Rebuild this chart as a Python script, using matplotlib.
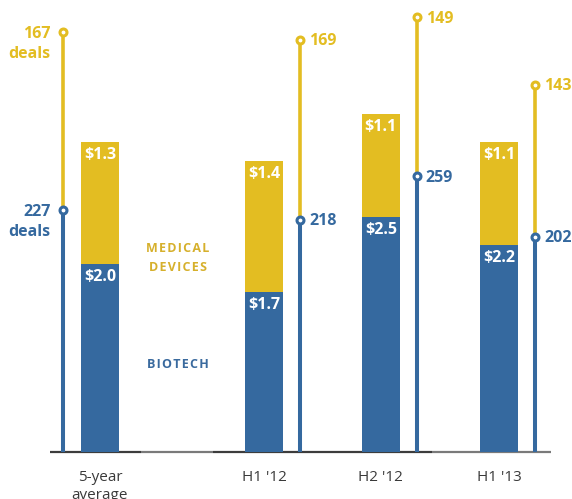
import matplotlib.pyplot as plt

plt.rcParams['font.family'] = ['Open Sans', 'DejaVu Sans']

# --- Data ---
categories = ["5-year\naverage", "H1 '12", "H2 '12", "H1 '13"]
biotech_usd = [2.0, 1.7, 2.5, 2.2]      # $ billions
meddev_usd = [1.3, 1.4, 1.1, 1.1]
biotech_deals = [227, 218, 259, 202]
meddev_deals = [167, 169, 149, 143]

BLUE = "#35699f"
YELLOW = "#e3bd22"
BLUE_TXT = "#3a6a9e"
YELLOW_TXT = "#d6b02c"

# bar centres and where each deal-count stem sits next to its bar
x_pos = [0, 1.396, 2.39, 3.396]
stem_off = [-0.315, 0.306, 0.306, 0.306]
bar_w = 0.323
LBL = dict(fontsize=11.5, fontweight="bold")


def spaced(word):
    # loose tracking for the small caps labels
    return "\u200a".join(word)


fig = plt.figure(figsize=(5.72, 4.99), dpi=100)
ax = fig.add_axes([0, 47 / 499, 1, 452 / 499])
ax.set_xlim(-0.851, 4.017)
ax.set_ylim(0, 4.81)
ax2 = ax.twinx()
ax2.set_ylim(0, 424.4)

# stacked bars: biotech then medical devices
ax.bar(x_pos, biotech_usd, width=bar_w, color=BLUE, zorder=2)
ax.bar(x_pos, meddev_usd, width=bar_w, bottom=biotech_usd, color=YELLOW, zorder=2)

for x, b, m in zip(x_pos, biotech_usd, meddev_usd):
    ax.annotate(f"${b:.1f}", (x, b), xytext=(0, -9.5), textcoords="offset points",
                ha="center", va="center", color="white", **LBL)
    ax.annotate(f"${m:.1f}", (x, b + m), xytext=(0, -9.5), textcoords="offset points",
                ha="center", va="center", color="white", **LBL)

# deal-count stems: blue from zero, yellow stacked on top
for i, (x, off, bd, md) in enumerate(zip(x_pos, stem_off, biotech_deals, meddev_deals)):
    sx = x + off
    total = bd + md
    ax2.plot([sx, sx], [bd, total], color=YELLOW, lw=2.6, solid_capstyle="butt", zorder=3)
    ax2.plot([sx, sx], [0, bd], color=BLUE, lw=2.9, solid_capstyle="butt", zorder=3)
    ax2.plot(sx, total, "o", ms=5, mfc="white", mec=YELLOW, mew=2.2, zorder=4)
    ax2.plot(sx, bd, "o", ms=5, mfc="white", mec=BLUE, mew=2.2, zorder=4)
    if i == 0:
        for val, lab, col in ((total, md, YELLOW), (bd, bd, BLUE)):
            ax2.annotate(str(lab), (sx, val), xytext=(-9, -1), textcoords="offset points",
                         ha="right", va="center", color=col, **LBL)
            ax2.annotate("deals", (sx, val), xytext=(-9, -15.5), textcoords="offset points",
                         ha="right", va="center", color=col, **LBL)
    else:
        ax2.annotate(str(md), (sx, total), xytext=(6.5, -1), textcoords="offset points",
                     ha="left", va="center", color=YELLOW, **LBL)
        ax2.annotate(str(bd), (sx, bd), xytext=(6.5, -1), textcoords="offset points",
                     ha="left", va="center", color=BLUE, **LBL)

# series labels
ax.text(0.664, 2.17, spaced("MEDICAL"), ha="center", va="center", color=YELLOW_TXT,
        fontsize=9, fontweight="bold")
ax.text(0.664, 1.96, spaced("DEVICES"), ha="center", va="center", color=YELLOW_TXT,
        fontsize=9, fontweight="bold")
ax.text(0.664, 0.93, spaced("BIOTECH"), ha="center", va="center", color=BLUE_TXT,
        fontsize=9, fontweight="bold")

# baseline, drawn in alternating shades
segs = [(-0.426, 0.349, "#3c3c3c"), (0.349, 0.962, "#7a7a7a"),
        (0.962, 2.826, "#3c3c3c"), (2.826, 3.838, "#7a7a7a")]
for x0, x1, c in segs:
    ax.plot([x0, x1], [0, 0], color=c, lw=1.6, solid_capstyle="butt", clip_on=False, zorder=1)

ax.set_xticks(x_pos)
ax.set_xticklabels(categories, fontsize=11, color="#3a3a3a", linespacing=1.3)
ax.tick_params(axis="x", length=0, pad=13)
ax.set_yticks([])
ax2.set_yticks([])
for a in (ax, ax2):
    for s in a.spines.values():
        s.set_visible(False)
    a.patch.set_visible(False)

fig.savefig("out.png", dpi=100)
